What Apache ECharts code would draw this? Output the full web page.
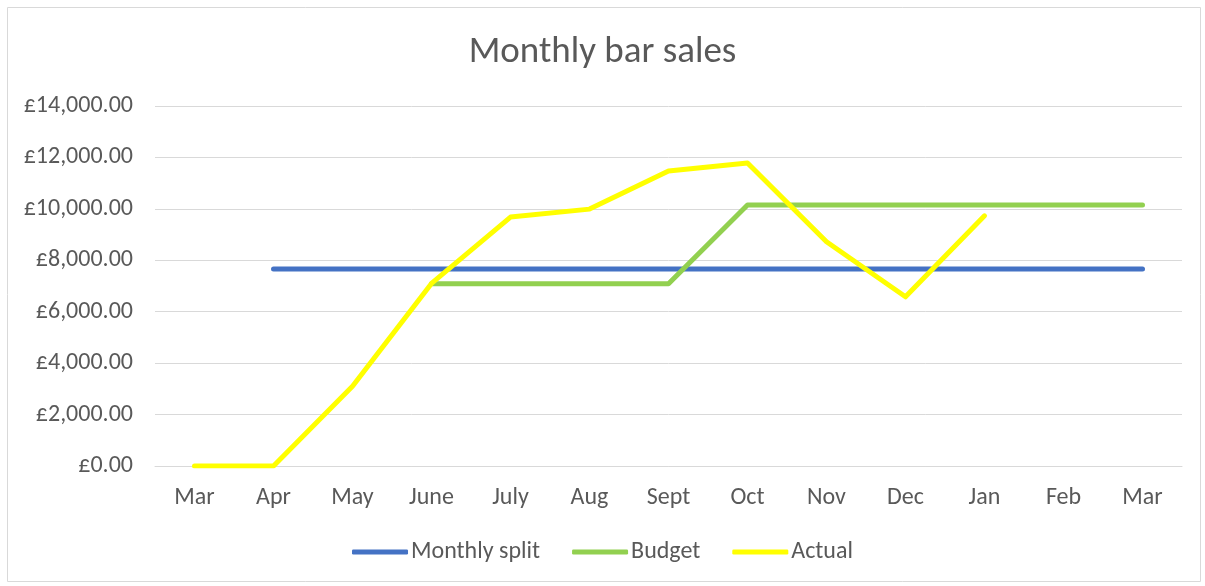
<!DOCTYPE html>
<html>
<head>
<meta charset="utf-8">
<script src="https://cdn.jsdelivr.net/npm/echarts@6/dist/echarts.min.js"></script>
<style>
  html, body { margin: 0; padding: 0; background: #fff; }
  #main { width: 1205px; height: 586px; }
</style>
</head>
<body>
<div id="main"></div>
<script>
// 类目与数据
const months = ['Mar', 'Apr', 'May', 'June', 'July', 'Aug', 'Sept', 'Oct', 'Nov', 'Dec', 'Jan', 'Feb', 'Mar']
const monthlySplit = [null, 7660, 7660, 7660, 7660, 7660, 7660, 7660, 7660, 7660, 7660, 7660, 7660]
const budget = [null, null, null, 7090, 7090, 7090, 7090, 10150, 10150, 10150, 10150, 10150, 10150]
const actual = [0, 0, 3100, 7100, 9680, 9990, 11470, 11780, 8720, 6580, 9730, null, null]

const font = 'Calibri, Carlito, "Open Sans", sans-serif'
const grey = '#595959'

let myChart = echarts.init(document.getElementById('main'))

function money(v) {
    return '£' + v.toLocaleString('en-GB', {minimumFractionDigits: 2, maximumFractionDigits: 2})
}

function line(name, data, color) {
    return {
        name: name,
        type: 'line',
        data: data,
        symbol: 'none',
        lineStyle: { color: color, width: 5, cap: 'round', join: 'round' },
        itemStyle: { color: color },
        emphasis: { disabled: true }
    }
}

let option = {
    animation: false,
    textStyle: { fontFamily: font },
    graphic: [{
        type: 'rect',
        shape: { x: 7.5, y: 7.5, width: 1193, height: 574 },
        style: { fill: 'none', stroke: '#d9d9d9', lineWidth: 1 }
    }],
    title: {
        text: 'Monthly bar sales',
        left: 'center',
        top: 29,
        textStyle: { color: grey, fontSize: 37, fontWeight: 'normal', fontFamily: font }
    },
    legend: {
        bottom: 17,
        left: 'center',
        icon: 'roundRect',
        itemWidth: 56,
        itemHeight: 5,
        itemGap: 32,
        textStyle: { color: grey, fontSize: 24, fontFamily: font, padding: [0, 0, 0, -2] },
        data: ['Monthly split', 'Budget', 'Actual']
    },
    grid: { left: 155, right: 23, top: 106, bottom: 120 },
    xAxis: {
        type: 'category',
        data: months,
        boundaryGap: true,
        axisLine: { lineStyle: { color: '#d9d9d9', width: 1 } },
        axisTick: { show: false },
        axisLabel: { color: grey, fontSize: 24, margin: 20, fontFamily: font }
    },
    yAxis: {
        type: 'value',
        min: 0,
        max: 14000,
        interval: 2000,
        axisLine: { show: false },
        axisTick: { show: false },
        axisLabel: { color: grey, fontSize: 24, margin: 22, fontFamily: font, formatter: money },
        splitLine: { lineStyle: { color: '#d9d9d9', width: 1 } }
    },
    series: [
        line('Monthly split', monthlySplit, '#4472C4'),
        line('Budget', budget, '#92D050'),
        line('Actual', actual, '#FFFF00')
    ]
}

myChart.setOption(option)
</script>
</body>
</html>
